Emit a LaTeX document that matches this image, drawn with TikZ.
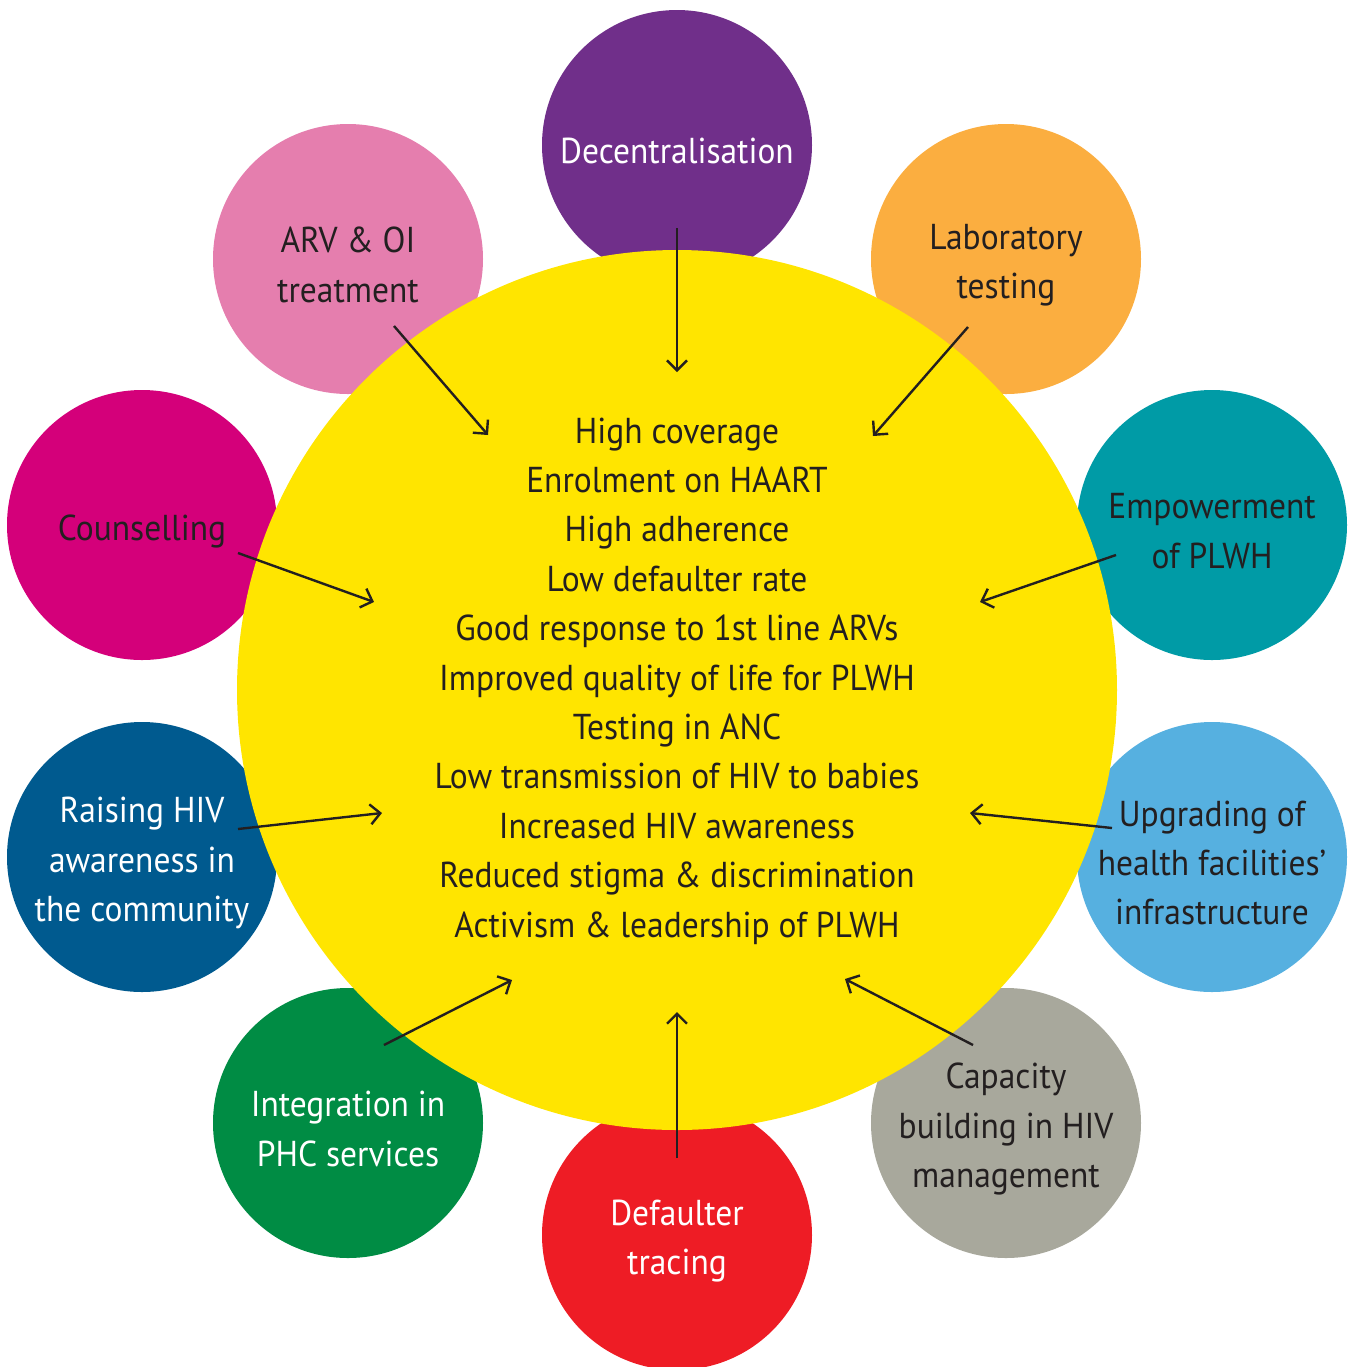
\documentclass[tikz,border=0pt]{standalone}
\usepackage{fontspec}
\setmainfont[FakeStretch=0.93]{PT Sans}
\usetikzlibrary{arrows.meta}

\definecolor{hubyellow}{HTML}{FFE500}
\definecolor{decpurple}{HTML}{702F8A}
\definecolor{laborange}{HTML}{FBAE40}
\definecolor{empteal}{HTML}{009BA6}
\definecolor{upgblue}{HTML}{56B0E0}
\definecolor{capgray}{HTML}{A8A89C}
\definecolor{defred}{HTML}{EE1C25}
\definecolor{intgreen}{HTML}{008C44}
\definecolor{raiseblue}{HTML}{005A8F}
\definecolor{counsmagenta}{HTML}{D4007A}
\definecolor{arvpink}{HTML}{E57EAE}
\definecolor{inkdark}{HTML}{231F20}

\tikzset{
  bodytext/.style={font=\fontsize{18}{24.7}\selectfont, align=center},
  spoke/.style={circle, minimum size=135pt, inner sep=0pt},
  darktext/.style={bodytext, text=inkdark, yshift=-3pt},
  lighttext/.style={bodytext, text=white, yshift=-3pt},
  feeds/.style={-{Straight Barb[length=5pt,width=10pt]}, line width=1.2pt, inkdark}
}

\begin{document}
\begin{tikzpicture}[x=0.5pt, y=-0.5pt]
    \useasboundingbox (0,0) rectangle (1350,1367);

    % outer circles
    \node[spoke, fill=decpurple, label={[lighttext]center:Decentralisation}] (dec) at (677,145) {};
    \node[spoke, fill=laborange, label={[darktext]center:Laboratory\\testing}] (lab) at (1006,259) {};
    \node[spoke, fill=empteal, label={[darktext]center:Empowerment\\of PLWH}] (emp) at (1212,525) {};
    \node[spoke, fill=upgblue, label={[darktext]center:Upgrading of\\health facilities'\\infrastructure}] (upg) at (1212,857) {};
    \node[spoke, fill=capgray, label={[darktext]center:Capacity\\building in HIV\\management}] (cap) at (1006,1123) {};
    \node[spoke, fill=defred, label={[lighttext]center:Defaulter\\tracing}] (dft) at (677,1235) {};
    \node[spoke, fill=intgreen, label={[lighttext]center:Integration in\\PHC services}] (int) at (348,1123) {};
    \node[spoke, fill=raiseblue, label={[lighttext]center:Raising HIV\\awareness in\\the community}] (rai) at (142,857) {};
    \node[spoke, fill=counsmagenta, label={[darktext]center:Counselling}] (cou) at (142,525) {};
    \node[spoke, fill=arvpink, label={[darktext]center:ARV \& OI\\treatment}] (arv) at (348,259) {};

    % central circle
    \node[circle, fill=hubyellow, minimum size=440pt, inner sep=0pt] (hub) at (677,690) {};
    \node[bodytext, text=inkdark] (outcomes) at (677,681)
      {High coverage\\Enrolment on HAART\\High adherence\\Low defaulter rate\\Good response to 1st line ARVs\\
       Improved quality of life for PLWH\\Testing in ANC\\Low transmission of HIV to babies\\
       Increased HIV awareness\\Reduced stigma \& discrimination\\Activism \& leadership of PLWH};

    % arrow ends
    \coordinate (dec-s) at (677,228);  \coordinate (dec-e) at (677,372);
    \coordinate (lab-s) at (968,327);  \coordinate (lab-e) at (873,436);
    \coordinate (emp-s) at (1116,555); \coordinate (emp-e) at (980,602);
    \coordinate (upg-s) at (1112,828); \coordinate (upg-e) at (970,813);
    \coordinate (cap-s) at (973,1045); \coordinate (cap-e) at (845,979);
    \coordinate (dft-s) at (677,1158); \coordinate (dft-e) at (677,1012);
    \coordinate (int-s) at (384,1045); \coordinate (int-e) at (512,980);
    \coordinate (rai-s) at (238,829);  \coordinate (rai-e) at (382,813);
    \coordinate (cou-s) at (238,553);  \coordinate (cou-e) at (374,602);
    \coordinate (arv-s) at (394,326);  \coordinate (arv-e) at (488,435);

    % arrows
    \foreach \k in {dec,lab,emp,upg,cap,dft,int,rai,cou,arv}
      \draw[feeds] (\k-s) -- (\k-e);
\end{tikzpicture}
\end{document}
